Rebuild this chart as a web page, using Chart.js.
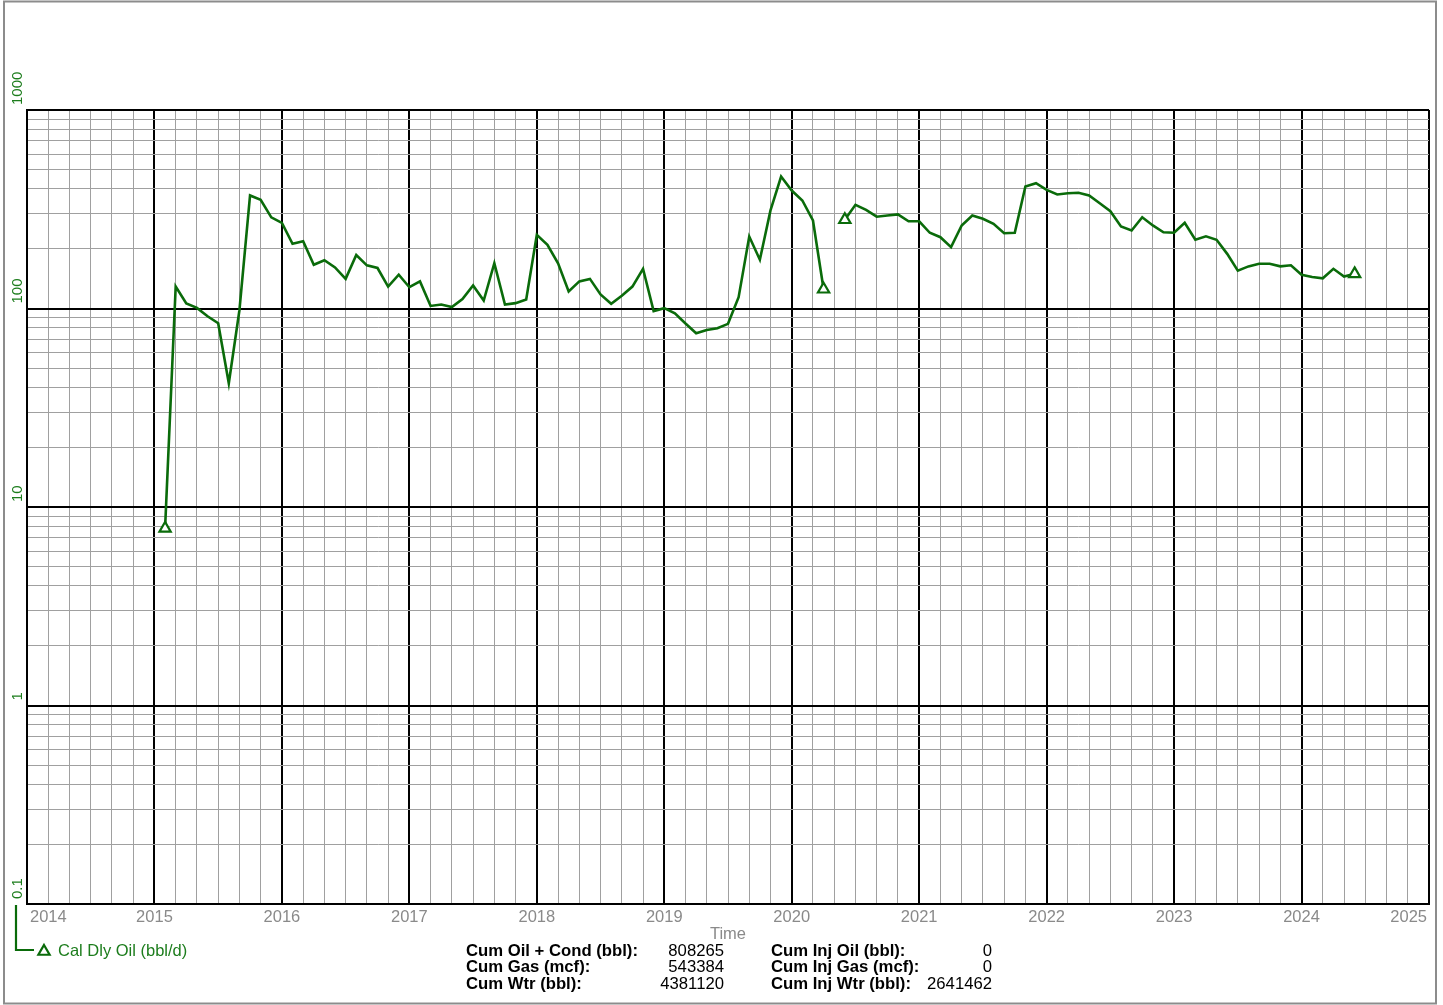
<!DOCTYPE html>
<html>
<head>
<meta charset="utf-8">
<title>Cal Dly Oil</title>
<script src="https://cdn.jsdelivr.net/npm/chart.js@4.4.1/dist/chart.umd.min.js"></script>
<style>
  html, body { margin: 0; padding: 0; background: #ffffff; }
  canvas { display: block; }
</style>
</head>
<body>
<canvas id="chart" width="1443" height="1005"></canvas>
<script>
// Month index counted from January 2014 (0 = Jan 2014, 12 = Jan 2015, ...)
const monthIndex = [
  13, 14, 15, 16, 17, 18, 19, 20, 21, 22, 23, 24, 25, 26, 27, 28, 29, 30, 31, 32,
  33, 34, 35, 36, 37, 38, 39, 40, 41, 42, 43, 44, 45, 46, 47, 48, 49, 50, 51, 52,
  53, 54, 55, 56, 57, 58, 59, 60, 61, 62, 63, 64, 65, 66, 67, 68, 69, 70, 71, 72,
  73, 74, 75, 76, 77, 78, 79, 80, 81, 82, 83, 84, 85, 86, 87, 88, 89, 90, 91, 92,
  93, 94, 95, 96, 97, 98, 99, 100, 101, 102, 103, 104, 105, 106, 107, 108, 109, 110, 111, 112,
  113, 114, 115, 116, 117, 118, 119, 120, 121, 122, 123, 124, 125
];

// Calendar-day oil rate (bbl/d); null = no production reported that month
const oilRate = [
  7.8, 129, 106, 100.7, 91.4, 84.3, 42, 98, 371, 353, 288, 270, 212, 218, 166, 175, 161, 141, 186, 165,
  160, 129, 148, 128, 137, 103, 104.7, 101.6, 111.5, 130.6, 109.7, 169, 104.7, 106.4, 111, 235, 209.5, 169, 122, 137,
  141, 117.7, 105.6, 116, 129, 158.5, 97, 100.4, 94.6, 84, 75, 78, 79.6, 83.7, 114, 230.5, 176, 312, 462, 393,
  350, 277.6, 125, null, 280, 333, 314, 290, 294, 298, 275, 275, 240.7, 228.7, 203.7, 262, 294, 283, 267, 239.5,
  240.7, 412, 428, 396, 375.5, 381, 383, 371, 339, 309, 259, 247, 288, 262, 242, 240.7, 270, 222, 231, 222,
  188.5, 155, 163, 168, 168, 163, 165, 148, 144, 142, 158.5, 145, 149.5
];

const yearLabels = ['2014', '2015', '2016', '2017', '2018', '2019', '2020', '2021', '2022', '2023', '2024', '2025'];
const rateTickLabels = ['0.1', '1', '10', '100', '1000'];
const rateDecades = [0.1, 1, 10, 100, 1000];

const seriesName = 'Cal Dly Oil (bbl/d)';
const axisTitle = 'Time';
const cumLabelsLeft = ['Cum Oil + Cond (bbl):', 'Cum Gas (mcf):', 'Cum Wtr (bbl):'];
const cumValuesLeft = ['808265', '543384', '4381120'];
const cumLabelsRight = ['Cum Inj Oil (bbl):', 'Cum Inj Gas (mcf):', 'Cum Inj Wtr (bbl):'];
const cumValuesRight = ['0', '0', '2641462'];

const GREEN = '#0a6b0a';
const GREEN_TEXT = '#1d7d1d';
const GRAY_TEXT = '#8a8a8a';
const FONT = "'Liberation Sans', Arial, sans-serif";

const points = monthIndex.map((m, i) => ({ x: m, y: oilRate[i] }));

// Marker only where a run of data starts or ends
function isRunEnd(i) {
  if (oilRate[i] == null) return false;
  const prev = i > 0 ? oilRate[i - 1] : null;
  const next = i < oilRate.length - 1 ? oilRate[i + 1] : null;
  return prev == null || next == null;
}

function isDecade(v) {
  const l = Math.log10(v);
  return Math.abs(l - Math.round(l)) < 1e-9;
}

function drawTriangle(ctx, x, y, r) {
  ctx.beginPath();
  ctx.moveTo(x, y - r);
  ctx.lineTo(x + r * Math.sin(2 * Math.PI / 3), y + r / 2);
  ctx.lineTo(x - r * Math.sin(2 * Math.PI / 3), y + r / 2);
  ctx.closePath();
  ctx.fillStyle = '#ffffff';
  ctx.fill();
  ctx.stroke();
}

const framePlugin = {
  id: 'frame',
  beforeDraw(chart) {
    const ctx = chart.ctx;
    ctx.save();
    ctx.fillStyle = '#ffffff';
    ctx.fillRect(0, 0, chart.width, chart.height);
    ctx.strokeStyle = '#8c8c8c';
    ctx.lineWidth = 2;
    ctx.strokeRect(4, 1.5, 1432, 1002);
    ctx.restore();
  }
};

const textPlugin = {
  id: 'annotations',
  afterDraw(chart) {
    const ctx = chart.ctx;
    const xs = chart.scales.x;
    const ys = chart.scales.y;
    const area = chart.chartArea;
    ctx.save();

    // Year labels under the plot
    ctx.font = '16.5px ' + FONT;
    ctx.fillStyle = GRAY_TEXT;
    ctx.textBaseline = 'middle';
    yearLabels.forEach((lab, i) => {
      const px = xs.getPixelForValue(i * 12);
      if (i === 0) { ctx.textAlign = 'left'; ctx.fillText(lab, px + 3, area.bottom + 13); }
      else if (i === yearLabels.length - 1) { ctx.textAlign = 'right'; ctx.fillText(lab, px - 2, area.bottom + 13); }
      else { ctx.textAlign = 'center'; ctx.fillText(lab, px, area.bottom + 13); }
    });

    // Axis title
    ctx.textAlign = 'center';
    ctx.fillText(axisTitle, (area.left + area.right) / 2, area.bottom + 30);

    // Rotated rate labels, sitting just above each decade line
    ctx.font = '15px ' + FONT;
    ctx.fillStyle = GREEN_TEXT;
    rateDecades.forEach((v, i) => {
      const py = ys.getPixelForValue(v);
      ctx.save();
      ctx.translate(17.5, py - 5);
      ctx.rotate(-Math.PI / 2);
      ctx.textAlign = 'left';
      ctx.textBaseline = 'middle';
      ctx.fillText(rateTickLabels[i], 0, 0);
      ctx.restore();
    });

    // Legend bracket with marker and series name
    ctx.strokeStyle = GREEN;
    ctx.lineWidth = 2.2;
    ctx.beginPath();
    ctx.moveTo(16, area.bottom + 1);
    ctx.lineTo(16, 950);
    ctx.lineTo(34, 950);
    ctx.stroke();
    drawTriangle(ctx, 44, 951.5, 6.5);
    ctx.font = '16.5px ' + FONT;
    ctx.fillStyle = GREEN_TEXT;
    ctx.textAlign = 'left';
    ctx.textBaseline = 'middle';
    ctx.fillText(seriesName, 58, 951);

    // Cumulative totals
    const rowY = [951, 967.5, 984];
    ctx.fillStyle = '#000000';
    rowY.forEach((y, i) => {
      ctx.font = 'bold 16.7px ' + FONT;
      ctx.textAlign = 'left';
      ctx.fillText(cumLabelsLeft[i], 466, y);
      ctx.fillText(cumLabelsRight[i], 771, y);
      ctx.font = '16.7px ' + FONT;
      ctx.textAlign = 'right';
      ctx.fillText(cumValuesLeft[i], 724, y);
      ctx.fillText(cumValuesRight[i], 992, y);
    });

    ctx.restore();
  }
};

// Grid positions: every second month on x, 1..9 per decade on y
const xGrid = [];
for (let m = 0; m <= 132; m += 2) xGrid.push(m);
const yGrid = [];
rateDecades.slice(0, -1).forEach(d => { for (let k = 1; k <= 9; k++) yGrid.push(+(d * k).toPrecision(6)); });
yGrid.push(1000);

new Chart(document.getElementById('chart'), {
  type: 'line',
  data: {
    datasets: [{
      label: seriesName,
      data: points,
      borderColor: GREEN,
      borderWidth: 2.6,
      backgroundColor: '#ffffff',
      fill: false,
      tension: 0,
      spanGaps: false,
      pointStyle: 'triangle',
      pointRadius: ctx => isRunEnd(ctx.dataIndex) ? 6.5 : 0,
      pointBorderWidth: 2.2,
      pointBorderColor: GREEN,
      pointBackgroundColor: '#ffffff',
      pointHoverRadius: 0
    }]
  },
  options: {
    responsive: false,
    animation: false,
    events: [],
    devicePixelRatio: 1,
    layout: { padding: { top: 110, right: 14, left: 0, bottom: 0 } },
    plugins: { legend: { display: false }, tooltip: { enabled: false } },
    scales: {
      x: {
        type: 'linear',
        min: 0,
        max: 132,
        afterBuildTicks: scale => { scale.ticks = xGrid.map(v => ({ value: v })); },
        afterFit: scale => { scale.height = 101; },
        ticks: { display: false, autoSkip: false },
        grid: {
          drawTicks: false,
          color: c => (c.tick && c.tick.value % 12 === 0) ? '#000000' : '#a0a0a0',
          lineWidth: c => (c.tick && c.tick.value % 12 === 0) ? 2 : 1
        },
        border: { display: true, color: '#000000', width: 2 }
      },
      y: {
        type: 'logarithmic',
        min: 0.1,
        max: 1000,
        afterBuildTicks: scale => { scale.ticks = yGrid.map(v => ({ value: v })); },
        afterFit: scale => { scale.width = 27; },
        ticks: { display: false, autoSkip: false },
        grid: {
          drawTicks: false,
          color: c => (c.tick && isDecade(c.tick.value)) ? '#000000' : '#a0a0a0',
          lineWidth: c => (c.tick && isDecade(c.tick.value)) ? 2 : 1
        },
        border: { display: true, color: '#000000', width: 2 }
      }
    }
  },
  plugins: [framePlugin, textPlugin]
});
</script>
</body>
</html>
